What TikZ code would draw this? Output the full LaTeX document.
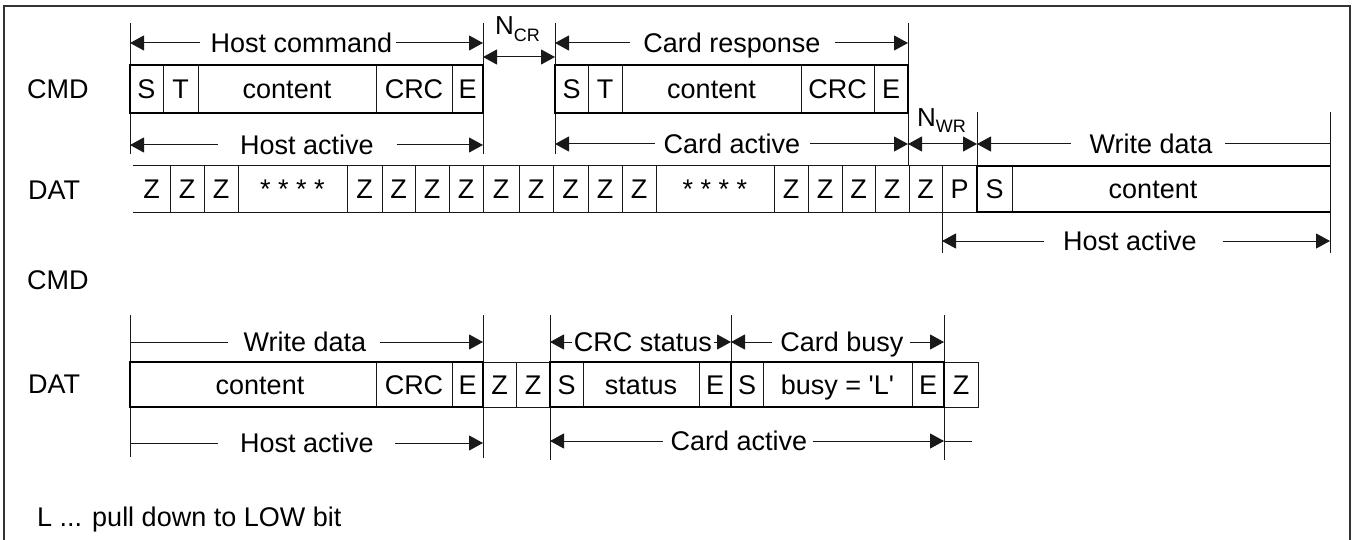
\documentclass[tikz,border=0pt]{standalone}
\usepackage{fontspec}
\setmainfont{Liberation Sans}[Ligatures=TeXOff]
\usetikzlibrary{arrows.meta}
\tikzset{
  thinln/.style={line width=1pt,draw=black!90},
  thickln/.style={line width=2.6pt,draw=black},
  dimln/.style={line width=1pt,draw=black!90},
  tipL/.style={{Triangle[length=14pt,width=15pt]}-},
  tipR/.style={-{Triangle[length=14pt,width=15pt]}},
  tipLR/.style={{Triangle[length=14pt,width=15pt]}-{Triangle[length=14pt,width=15pt]}},
  nontip/.style={},
  lbl/.style={font=\fontsize{27}{30}\selectfont,inner sep=0pt,text height=19.3pt,text depth=0pt,text=black},
  nlbl/.style={font=\fontsize{26}{28}\selectfont,inner sep=0pt,anchor=base west,text=black},
}
% dimension line in two pieces: #1 left tip, #2 x1, #3 end of left piece, #4 start of right piece, #5 x2, #6 y, #7 right tip
\newcommand{\dimpair}[7]{%
  \coordinate (dA) at (#2,#6); \coordinate (dB) at (#3,#6);
  \coordinate (dC) at (#4,#6); \coordinate (dD) at (#5,#6);
  \draw[dimln,#1] (dA) -- (dB);
  \draw[dimln,#7] (dC) -- (dD);}
\newcommand{\tick}[3]{\coordinate (tA) at (#1,#2); \coordinate (tB) at (#1,#3); \draw[thinln] (tA) -- (tB);}
\begin{document}
\begin{tikzpicture}[x=1pt,y=-1pt]
\useasboundingbox (0,0) rectangle (1356,540);
% frame
\draw[line width=2pt,black!80] (4,545) -- (4,6) -- (1350,6) -- (1350,545);

% ---------- row labels ----------
\node[lbl,anchor=west] (cmd1) at (27,89) {CMD};
\node[lbl,anchor=west] (dat1) at (28,190) {DAT};
\node[lbl,anchor=west] (cmd2) at (27,280) {CMD};
\node[lbl,anchor=west] (dat2) at (28,384) {DAT};

% ---------- ticks, top section ----------
\tick{130}{23}{154}
\tick{483}{23}{154}
\tick{555}{23}{154}
\tick{908}{23}{166}
\tick{977}{112}{166}
\tick{1330}{112}{253}
\tick{942}{212}{253}

% ---------- Host command box ----------
\foreach \x in {163,198,376,452} \draw[thinln] (\x,65) -- (\x,113);
\draw[thickln] (130,65) rectangle (483,113);
\foreach \x/\t [count=\i] in {146.5/S,180.5/T,287/content,414/CRC,467.5/E}
  \node[lbl] (hc\i) at (\x,89) {\t};

% ---------- Card response box ----------
\foreach \x in {588,622,801,874} \draw[thinln] (\x,65) -- (\x,113);
\draw[thickln] (555,65) rectangle (908,113);
\foreach \x/\t [count=\i] in {571.5/S,605/T,711.5/content,837.5/CRC,891/E}
  \node[lbl] (cr\i) at (\x,89) {\t};

% ---------- DAT row 1 ----------
\draw[thinln] (133,166) -- (977,166);
\draw[thinln] (133,212) -- (977,212);
\foreach \x in {170,204,238,347,382,415,449,483,519,553,588,622,656,774,808,842,875,909,942}
  \draw[thinln] (\x,166) -- (\x,212);
\foreach \x/\t [count=\i] in {151.5/Z,187/Z,221/Z,364.5/Z,398.5/Z,432/Z,466/Z,501/Z,536/Z,570.5/Z,605/Z,639/Z,791/Z,825/Z,858.5/Z,892/Z,925.5/Z,959.5/P}
  \node[lbl] (d\i) at (\x,189) {\t};
\node[lbl] (st1) at (292.5,189) {* * * *};
\node[lbl] (st2) at (715,189) {* * * *};
% write data block
\draw[thinln] (1012,166) -- (1012,212);
\draw[thickln] (1330,166) -- (977,166) -- (977,212) -- (1330,212);
\node[lbl] (wS) at (994.5,189) {S};
\node[lbl] (wC) at (1153,189) {content};

% ---------- dimension lines, top section ----------
\dimpair{tipL}{130}{200}{396}{483}{43}{tipR}
\node[lbl] (hcmd) at (301.5,43) {Host command};
\draw[dimln,tipLR] (483,57) -- (555,57);
\node[nlbl] (ncr) at (495,35) {N\raisebox{-7pt}{\fontsize{18}{20}\selectfont CR}};
\dimpair{tipL}{555}{630}{835}{908}{43}{tipR}
\node[lbl] (cresp) at (732,43) {Card response};
\dimpair{tipL}{130}{218}{397}{483}{145}{tipR}
\node[lbl] (hact1) at (307,145) {Host active};
\dimpair{tipL}{555}{655}{810}{908}{144}{tipR}
\node[lbl] (cact1) at (732,144) {Card active};
\draw[dimln,tipLR] (908,144) -- (977,144);
\node[nlbl] (nwr) at (917,127) {N\raisebox{-6pt}{\fontsize{18}{20}\selectfont WR}};
\dimpair{tipL}{977}{1071}{1225}{1330}{144}{nontip}
\node[lbl] (wd1) at (1151,144) {Write data};
\dimpair{tipL}{942}{1044}{1223}{1330}{241}{tipR}
\node[lbl] (hact2) at (1130,241) {Host active};

% ---------- bottom section ticks ----------
\tick{130}{315}{457}
\tick{483}{315}{458}
\tick{550}{315}{460}
\tick{731}{315}{362}
\tick{944}{315}{460}

% ---------- DAT row 2 ----------
\draw[thinln] (483,362) -- (550,362);
\draw[thinln] (483,407) -- (550,407);
\draw[thinln] (516,362) -- (516,407);
\draw[thinln] (944,362) rectangle (978,407);
\foreach \x in {376,452} \draw[thinln] (\x,362) -- (\x,407);
\draw[thickln] (130,362) rectangle (483,407);
\foreach \x in {583,699,763,912} \draw[thinln] (\x,362) -- (\x,407);
\draw[thickln] (550,362) rectangle (944,407);
\draw[thickln] (731,362) -- (731,407);
\foreach \x/\t [count=\i] in {260/content,414/CRC,467.5/E,499.5/Z,533/Z,566.5/S,641/status,715/E,747/S,928/E,961/Z}
  \node[lbl] (b\i) at (\x,384.5) {\t};
\node[lbl] (busy) at (837.5,384.5) {busy = 'L'};

% ---------- dimension lines, bottom section ----------
\dimpair{nontip}{130}{228}{380}{483}{342}{tipR}
\node[lbl] (wd2) at (305,342) {Write data};
\dimpair{nontip}{130}{218}{395}{483}{443}{tipR}
\node[lbl] (hact3) at (307,443) {Host active};
\dimpair{tipL}{550}{572}{714}{731}{342}{tipR}
\node[lbl] (crcs) at (643,342) {CRC status};
\dimpair{tipL}{731}{772}{910}{944}{342}{tipR}
\node[lbl] (cbusy) at (842,342) {Card busy};
\dimpair{tipL}{550}{663}{813}{944}{441}{tipR}
\coordinate (ext) at (972,441);
\draw[dimln] (dD) -- (ext);
\node[lbl] (cact2) at (739,441) {Card active};

% ---------- note ----------
\node[lbl,anchor=west] (note) at (37,517) {L ... pull down to LOW bit};
\end{tikzpicture}
\end{document}
